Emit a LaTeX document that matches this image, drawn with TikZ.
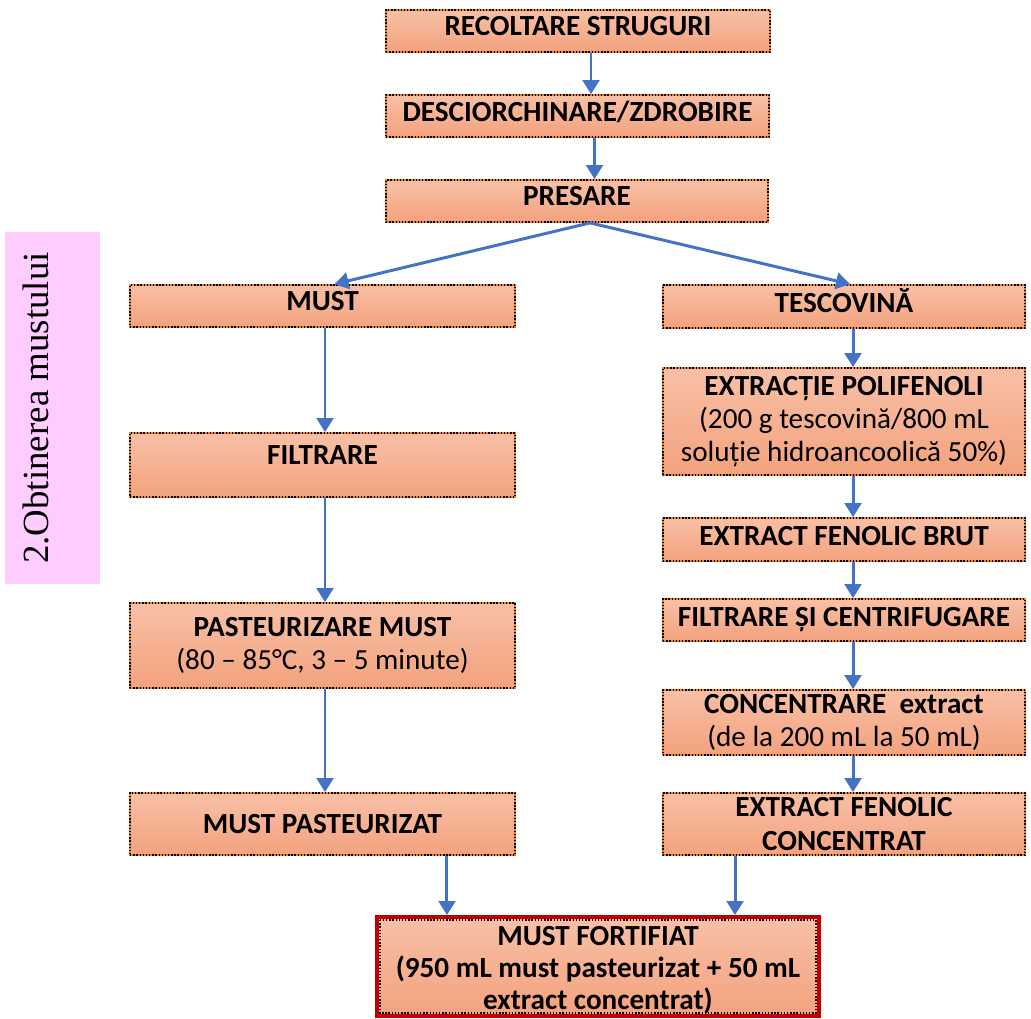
\documentclass[tikz,border=0pt]{standalone}
\usepackage{fontspec}
\setmainfont{Carlito}
\newfontfamily\sidefont{Liberation Serif}
\usetikzlibrary{positioning, arrows.meta}
\definecolor{boxtop}{HTML}{F8C0A6}
\definecolor{boxbot}{HTML}{F3A27E}
\definecolor{edge}{HTML}{ED7D31}
\definecolor{flowblue}{HTML}{4472C4}
\definecolor{fortred}{HTML}{C00000}
\definecolor{sidepink}{HTML}{FFCCFF}
\newcommand{\thin}[1]{{\mdseries #1}}

\begin{document}
\begin{tikzpicture}[x=0.02cm, y=-0.02cm,
  every node/.style={font=\fontsize{16.6}{19}\selectfont\bfseries, align=center},
  stepbox/.style={draw=edge, line width=1pt, top color=boxtop, bottom color=boxbot, inner sep=2pt,
                  postaction={draw=black, densely dotted, line width=0.8pt}},
  leftbox/.style={stepbox, minimum width=7.7cm},
  rightbox/.style={stepbox, minimum width=7.24cm},
  lift/.style={execute at end node={\rule[-#1]{0pt}{#1}}},
  flow/.style={-{Triangle[length=8pt,width=9.5pt]}, draw=flowblue, line width=1.7pt}]
\useasboundingbox (0,0) rectangle (1031,1018);

% side label
\node[fill=sidepink, minimum width=1.9cm, minimum height=7.04cm] (side) at (52.5,408) {};
\node[rotate=90, font=\sidefont\fontsize{21}{21}\selectfont] (sidetxt) at ([xshift=-0.34cm]side.center) {2.Obtinerea mustului};

% common trunk
\node[stepbox, lift=5.7pt, minimum width=7.68cm, minimum height=0.84cm] (rec) at (578,31) {RECOLTARE STRUGURI};
\node[stepbox, lift=5pt, minimum width=7.66cm, minimum height=0.84cm] (desc) at (577.5,116) {DESCIORCHINARE/ZDROBIRE};
\node[stepbox, lift=5.7pt, minimum width=7.64cm, minimum height=0.84cm] (pres) at (577,201) {PRESARE};

% must branch
\node[leftbox, lift=5.7pt, minimum height=0.84cm] (must) at (322.5,306) {MUST};
\node[leftbox, lift=11pt, minimum height=1.28cm] (filt) at (322.5,465) {FILTRARE};
\node[leftbox, minimum height=1.7cm] (past) at (322.5,645.5) {PASTEURIZARE MUST\\ \thin{(80 – 85°C, 3 – 5 minute)}};
\node[leftbox, minimum height=1.24cm] (mpast) at (322.5,824) {MUST PASTEURIZAT};

% tescovina branch
\node[rightbox, lift=6.5pt, minimum height=0.86cm] (tesc) at (844,306.5) {TESCOVINĂ};
\node[rightbox, minimum height=2.14cm] (extr) at (844,421.5) {EXTRACȚIE POLIFENOLI\\ \thin{(200 g tescovină/800 mL}\\ \thin{soluție hidroancoolică 50\%)}};
\node[rightbox, lift=4pt, minimum height=0.86cm] (brut) at (844,539.5) {EXTRACT FENOLIC BRUT};
\node[rightbox, lift=4pt, minimum height=0.84cm] (filc) at (844,620) {FILTRARE ȘI CENTRIFUGARE};
\node[rightbox, minimum height=1.3cm] (conc) at (844,722.5) {CONCENTRARE\ \ extract\\ \thin{(de la 200 mL la 50 mL)}};
\node[rightbox, minimum height=1.24cm, inner ysep=0pt] (fconc) at (844,824) {EXTRACT FENOLIC\\ CONCENTRAT};

% result
\node[draw=fortred, line width=2.2pt, top color=boxtop, bottom color=boxbot, inner ysep=0pt,
      font=\fontsize{16.6}{18.2}\selectfont\bfseries,
      minimum width=8.84cm, minimum height=1.98cm] (fort) at (598,966.5)
      {\rule{0pt}{15pt}MUST FORTIFIAT\\ (950 mL must pasteurizat + 50 mL\\ extract concentrat)};
\draw[densely dotted, line width=0.8pt] ([shift={(0.1cm,-0.1cm)}]fort.north west) rectangle ([shift={(-0.1cm,0.1cm)}]fort.south east);

% arrows
\draw[flow] ([xshift=0.26cm]rec.south) -- ([xshift=0.26cm]rec.south |- desc.north);
\draw[flow] ([xshift=0.34cm]desc.south) -- ([xshift=0.34cm]desc.south |- pres.north);
\draw[flow] ([xshift=0.26cm]pres.south) -- ([xshift=0.24cm]must.north);
\draw[flow] ([xshift=0.26cm]pres.south) -- ([xshift=0.12cm]tesc.north);
\draw[flow] ([xshift=0.05cm]must.south) -- ([xshift=0.05cm]must.south |- filt.north);
\draw[flow] ([xshift=0.05cm]filt.south) -- ([xshift=0.05cm]filt.south |- past.north);
\draw[flow] ([xshift=0.05cm]past.south) -- ([xshift=0.05cm]past.south |- mpast.north);
\draw[flow] ([xshift=0.18cm]tesc.south) -- ([xshift=0.18cm]tesc.south |- extr.north);
\draw[flow] ([xshift=0.18cm]extr.south) -- ([xshift=0.18cm]extr.south |- brut.north);
\draw[flow] ([xshift=0.18cm]brut.south) -- ([xshift=0.18cm]brut.south |- filc.north);
\draw[flow] ([xshift=0.18cm]filc.south) -- ([xshift=0.18cm]filc.south |- conc.north);
\draw[flow] ([xshift=0.18cm]conc.south) -- ([xshift=0.18cm]conc.south |- fconc.north);
\draw[flow] ([xshift=2.49cm]mpast.south) -- ([xshift=2.49cm]mpast.south |- fort.north);
\draw[flow] ([xshift=-2.18cm]fconc.south) -- ([xshift=-2.18cm]fconc.south |- fort.north);
\end{tikzpicture}
\end{document}
